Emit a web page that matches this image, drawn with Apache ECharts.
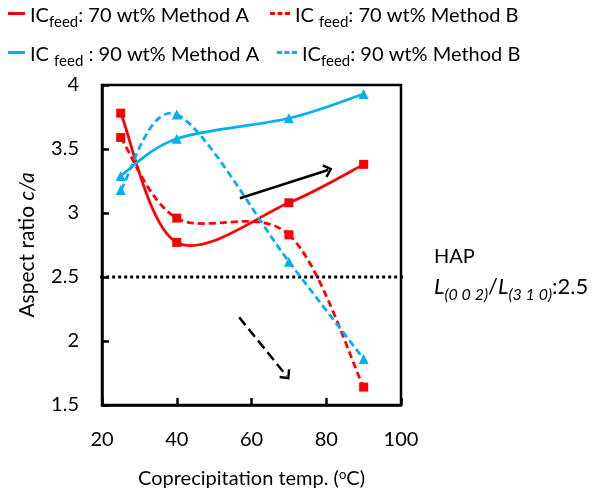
<!DOCTYPE html>
<html><head><meta charset="utf-8">
<script src="https://cdn.jsdelivr.net/npm/echarts@6/dist/echarts.min.js"></script>
<style>html,body{margin:0;padding:0;background:#fff}#c{width:598px;height:494px}</style>
</head><body><div id="c"></div>
<script>
var temps = [25, 40, 70, 90];
var ic70A = [3.78, 2.77, 3.08, 3.38];
var ic70B = [3.59, 2.96, 2.83, 1.64];
var ic90A = [3.29, 3.58, 3.74, 3.93];
var ic90B = [3.18, 3.77, 2.62, 1.86];
var xTicks = [20, 40, 60, 80, 100];
var yTicks = [1.5, 2, 2.5, 3, 3.5, 4];
var hapRatio = 2.5;
var hapLineX = [16.3, 107];
var upArrow = [[56.9, 3.115], [80.5, 3.336]];
var downArrow = [[56.7, 2.185], [69.4, 1.727]];

var RED = '#FF0000', BLUE = '#00B0F0';
var FONT = 'Lato';
function pts(ys){ return temps.map(function(t,i){ return [t, ys[i]]; }); }
var chevron = 'path://M6,0L12,7L10.4,8.6L6,3.2L1.6,8.6L0,7Z';

// Excel-like smoothed curve drawn segment by segment through the chart's own coordinate system
function splineSeries(ys, color, dash){
  var data = pts(ys);
  return {
    type: 'custom', silent: true, z: 2, clip: false,
    encode: {x: 0, y: 1},
    data: data,
    renderItem: function(params, api){
      var i = params.dataIndex, n = data.length;
      if (i >= n - 1) return null;
      var P = data.map(function(d){ return api.coord(d); });
      var p0 = P[Math.max(i - 1, 0)], p1 = P[i], p2 = P[i + 1], p3 = P[Math.min(i + 2, n - 1)];
      var k = 1 / 6;
      return {
        type: 'bezierCurve',
        shape: {
          x1: p1[0], y1: p1[1], x2: p2[0], y2: p2[1],
          cpx1: p1[0] + (p2[0] - p0[0]) * k, cpy1: p1[1] + (p2[1] - p0[1]) * k,
          cpx2: p2[0] - (p3[0] - p1[0]) * k, cpy2: p2[1] - (p3[1] - p1[1]) * k
        },
        style: {stroke: color, lineWidth: 2.75, fill: null, lineDash: dash || null}
      };
    }
  };
}

var legendRich = {
  m: {fontSize: 20, fontFamily: FONT, color: '#000', lineHeight: 25, verticalAlign: 'bottom'},
  s: {fontSize: 15, fontFamily: FONT, color: '#000', lineHeight: 14, verticalAlign: 'bottom', padding: [0,0,-4,0]}
};
var legendText = {
  A70: '{m|IC}{s|feed}{m|: 70 wt% Method A}',
  B70: '{m|IC }{s|feed}{m|: 70 wt% Method B}',
  A90: '{m|IC }{s|feed}{m| : 90 wt% Method A}',
  B90: '{m|IC}{s|feed}{m|: 90 wt% Method B}'
};
var dashIcon = 'path://M0,0h5v3h-5zM7.5,0h5v3h-5zM15,0h5v3h-5z';
function mkLegend(name, left, top, dashed){
  return {
    data: [{name: name, icon: dashed ? dashIcon : 'rect'}],
    left: left, top: top, itemWidth: dashed ? 20 : 17, itemHeight: 3,
    selectedMode: false, padding: 0,
    formatter: function(n){ return legendText[n]; },
    textStyle: {rich: legendRich}
  };
}
function markerSeries(name, ys, sym, size, color){
  return {name: name, type: 'line', data: pts(ys), symbol: sym, symbolSize: size, z: 3,
    itemStyle: {color: color}, lineStyle: {width: 0, opacity: 0}};
}

var chart = echarts.init(document.getElementById('c'), null, {renderer: 'canvas'});
var axisLbl = {fontSize: 20, fontFamily: FONT, color: '#000'};
chart.setOption({
  animation: false,
  backgroundColor: '#fff',
  grid: {left: 102, top: 85, right: 197, bottom: 89, show: true, borderColor: '#000', borderWidth: 2.5},
  legend: [
    mkLegend('A70', 8, 6, false),
    mkLegend('B70', 270, 6, true),
    mkLegend('A90', 8, 45, false),
    mkLegend('B90', 277, 45, true)
  ],
  xAxis: {
    type: 'value', min: xTicks[0], max: xTicks[xTicks.length-1], interval: 20,
    axisLine: {lineStyle: {color: '#000', width: 2.5}},
    axisTick: {inside: true, length: 7, lineStyle: {color: '#000', width: 2.5}},
    splitLine: {show: false},
    axisLabel: Object.assign({margin: 25}, axisLbl),
    name: '{a|Coprecipitation temp. (}{o|o}{a|C)}',
    nameLocation: 'middle', nameGap: 60,
    nameTextStyle: {rich: {
      a: {fontSize: 20, fontFamily: FONT, color: '#000', lineHeight: 24, verticalAlign: 'bottom'},
      o: {fontSize: 13, fontFamily: FONT, color: '#000', lineHeight: 24, verticalAlign: 'bottom', padding: [0,0,8,0]}
    }}
  },
  yAxis: {
    type: 'value', min: yTicks[0], max: yTicks[yTicks.length-1], interval: 0.5,
    axisLine: {show: true, lineStyle: {color: '#000', width: 2.5}},
    axisTick: {show: true, inside: true, length: 7, lineStyle: {color: '#000', width: 2.5}},
    splitLine: {show: false},
    axisLabel: Object.assign({margin: 23}, axisLbl),
    name: '{a|Aspect ratio }{i|c/a}',
    nameLocation: 'middle', nameRotate: 90, nameGap: 64,
    nameTextStyle: {rich: {
      a: {fontSize: 21, fontFamily: FONT, color: '#000'},
      i: {fontSize: 21, fontFamily: FONT, color: '#000', fontStyle: 'italic'}
    }}
  },
  series: [
    {name: 'HAP', type: 'line', data: [[hapLineX[0], hapRatio], [hapLineX[1], hapRatio]], clip: false,
     symbol: 'none', silent: true, lineStyle: {color: '#000', width: 3, type: 'dotted'}, z: 1},
    splineSeries(ic70A, RED, null),
    splineSeries(ic70B, RED, [7, 4]),
    splineSeries(ic90A, BLUE, null),
    splineSeries(ic90B, BLUE, [7, 4]),
    markerSeries('A70', ic70A, 'rect', 9, RED),
    markerSeries('B70', ic70B, 'rect', 9, RED),
    markerSeries('A90', ic90A, 'triangle', 10, BLUE),
    markerSeries('B90', ic90B, 'triangle', 10, BLUE),
    {name: 'arrows', type: 'line', data: [], silent: true,
     markLine: {
       silent: true, symbol: ['none', chevron], symbolSize: [14, 9], label: {show: false},
       data: [
         [{coord: upArrow[0], lineStyle: {color: '#000', width: 2.5, type: 'solid'}}, {coord: upArrow[1]}],
         [{coord: downArrow[0], lineStyle: {color: '#000', width: 2.5, type: [10, 5]}}, {coord: downArrow[1]}]
       ]
     }}
  ],
  graphic: [
    {type: 'text', left: 434, top: 247, style: {text: 'HAP', font: '20px Lato', fill: '#000'}},
    {type: 'text', left: 434, top: 276, style: {
      text: '{i|L}{s|(0 0 2)}{n|/}{i|L}{s|(3 1 0)}{n|:2.5}',
      rich: {
        i: {fontSize: 22, fontFamily: FONT, fontStyle: 'italic', fill: '#000', lineHeight: 26, verticalAlign: 'bottom'},
        n: {fontSize: 22, fontFamily: FONT, fill: '#000', lineHeight: 26, verticalAlign: 'bottom'},
        s: {fontSize: 16, fontFamily: FONT, fontStyle: 'italic', fill: '#000', lineHeight: 14, verticalAlign: 'bottom', padding: [0,0,-5,0]}
      }
    }}
  ]
});
</script></body></html>
